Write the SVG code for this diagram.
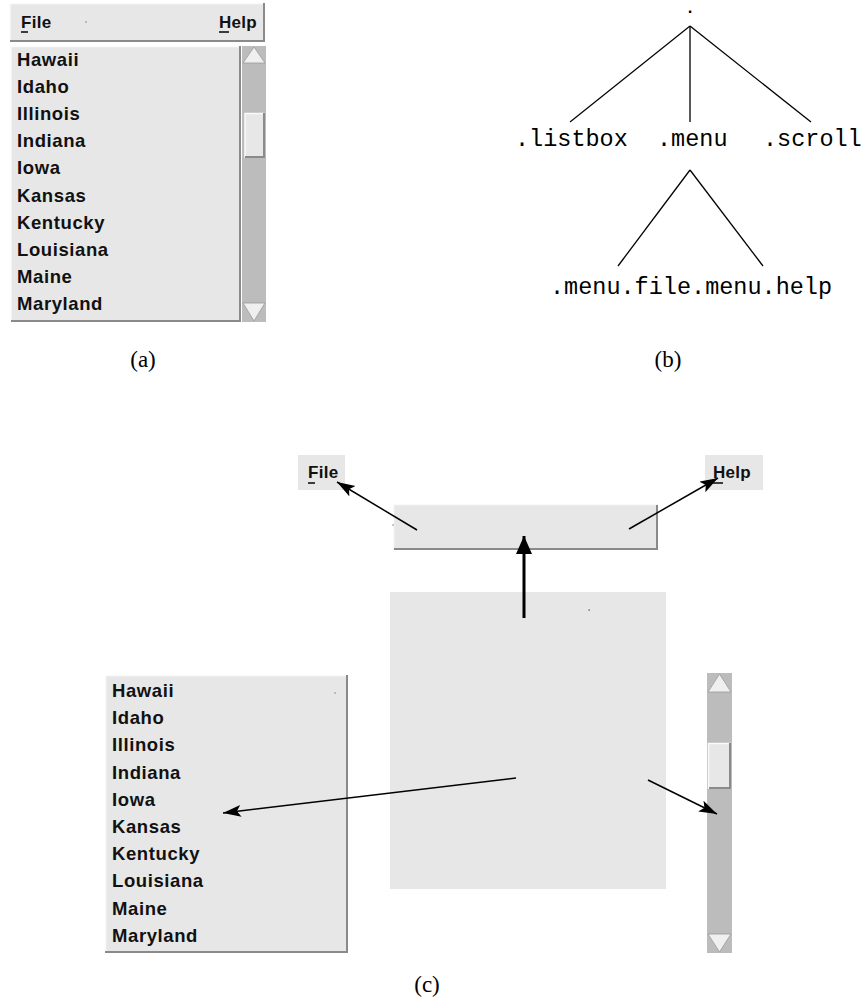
<svg xmlns="http://www.w3.org/2000/svg" width="864" height="1003" viewBox="0 0 864 1003">
<style>
.w{font-family:"Liberation Sans",Arial,sans-serif;font-weight:bold;font-size:18.5px;letter-spacing:0.6px;fill:#111}
.m{font-family:"Liberation Sans",Arial,sans-serif;font-weight:bold;font-size:17px;letter-spacing:0.3px;fill:#111}
.t{font-family:"Liberation Mono","Courier New",monospace;font-size:23.5px;fill:#000}
.cap{font-family:"Liberation Serif","Times New Roman",serif;font-size:23px;fill:#000}
.bg{fill:#e7e7e7}
.trough{fill:#bcbcbc}
.dark{stroke:#8a8a8a;stroke-width:2;fill:none}
.light{stroke:#fafafa;stroke-width:1.5;fill:none}
.tl{stroke:#000;stroke-width:1.3;fill:none}
.arr{stroke:#000;stroke-width:1.5;fill:none;marker-end:url(#ah)}
.arrb{stroke:#000;stroke-width:3;fill:none;marker-end:url(#ahb)}
.ul{stroke:#111;stroke-width:1.6}
.tri{fill:#efefef;stroke:#9a9a9a;stroke-width:0.8}
</style>
<defs>
<marker id="ah" markerUnits="userSpaceOnUse" markerWidth="20" markerHeight="14" refX="18" refY="6" orient="auto">
<path d="M0,0 L18,6 L0,12 L4,6 Z" fill="#000"/>
</marker>
<marker id="ahb" markerUnits="userSpaceOnUse" markerWidth="20" markerHeight="18" refX="18" refY="8" orient="auto">
<path d="M0,0 L18,8 L0,16 Z" fill="#000"/>
</marker>
</defs>
<rect width="864" height="1003" fill="#fff"/>

<!-- (a) screenshot -->
<g id="a-menubar">
<rect class="bg" x="10" y="3" width="255" height="39"/>
<polyline class="light" points="10,41 10,3.5 265,3.5"/>
<polyline class="dark" points="10,41 264,41 264,3"/>
<text class="m" x="21" y="28">File</text>
<line class="ul" x1="21" y1="32" x2="28" y2="32"/>
<text class="m" x="219" y="28">Help</text>
<line class="ul" x1="219" y1="32" x2="229" y2="32"/>
<rect x="85.5" y="21.5" width="1" height="1" fill="#333"/>
</g>
<g id="a-listbox">
<rect class="bg" x="11" y="46" width="230" height="276"/>
<polyline class="light" points="11,321 11,46.5 241,46.5"/>
<polyline class="dark" points="11,321 240,321 240,46"/>
<text class="w" x="17" y="66">Hawaii</text>
<text class="w" x="17" y="93.1">Idaho</text>
<text class="w" x="17" y="120.2">Illinois</text>
<text class="w" x="17" y="147.3">Indiana</text>
<text class="w" x="17" y="174.4">Iowa</text>
<text class="w" x="17" y="201.5">Kansas</text>
<text class="w" x="17" y="228.6">Kentucky</text>
<text class="w" x="17" y="255.7">Louisiana</text>
<text class="w" x="17" y="282.8">Maine</text>
<text class="w" x="17" y="309.9">Maryland</text>
</g>
<g id="a-scroll">
<rect class="trough" x="242" y="46" width="24" height="276"/>
<polygon class="tri" points="254,47 243,63 265,63"/>
<polygon class="tri" points="254,321 243,303 265,303"/>
<rect class="bg" x="245" y="113" width="20" height="45"/>
<polyline class="light" points="245,158 245,113.5 265,113.5"/>
<polyline class="dark" points="245,157 264,157 264,113"/>
</g>
<text id="cap-a" class="cap" x="143" y="367" text-anchor="middle">(a)</text>

<!-- (b) tree -->
<g id="b-root"><text x="690" y="13" text-anchor="middle" style="font-family:'Liberation Mono','Courier New',monospace;font-size:16px;font-weight:bold;fill:#000">.</text></g>
<g id="b-listbox"><text class="t" x="515" y="146">.listbox</text></g>
<g id="b-menu"><text class="t" x="657" y="146">.menu</text></g>
<g id="b-scroll"><text class="t" x="763" y="146">.scroll</text></g>
<g id="b-menufilehelp"><text class="t" x="550" y="294">.menu.file.menu.help</text></g>
<g id="b-connectors">
<line class="tl" x1="690" y1="26" x2="570" y2="122"/>
<line class="tl" x1="690" y1="26" x2="690" y2="122"/>
<line class="tl" x1="690" y1="26" x2="811" y2="122"/>
<line class="tl" x1="690" y1="170" x2="618" y2="266"/>
<line class="tl" x1="690" y1="170" x2="763" y2="266"/>
</g>
<text id="cap-b" class="cap" x="668" y="367" text-anchor="middle">(b)</text>

<!-- (c) exploded view -->
<g id="c-file">
<rect class="bg" x="298" y="455" width="47" height="35"/>
<text class="m" x="308" y="478">File</text>
<line class="ul" x1="308" y1="483" x2="315" y2="483"/>
</g>
<g id="c-help">
<rect class="bg" x="705" y="455" width="58" height="35"/>
<text class="m" x="713" y="478">Help</text>
<line class="ul" x1="713" y1="483" x2="723" y2="483"/>
</g>
<g id="c-menubar">
<rect class="bg" x="393" y="504" width="265" height="46"/>
<polyline class="light" points="393.5,549 393.5,504.5 657,504.5"/>
<polyline class="dark" points="394,549 657,549 657,505"/>
<rect x="392.5" y="524.5" width="1" height="1" fill="#333"/>
</g>
<g id="c-frame">
<rect class="bg" x="390" y="592" width="276" height="297"/>
<rect x="588.5" y="609.5" width="1.2" height="1.2" fill="#333"/>
</g>
<g id="c-listbox">
<rect class="bg" x="105" y="675" width="243" height="278"/>
<polyline class="light" points="105.5,952 105.5,675.5 347,675.5"/>
<polyline class="dark" points="105,952 347,952 347,675"/>
<rect x="334.5" y="692.5" width="1" height="1" fill="#333"/>
<text class="w" x="112" y="697">Hawaii</text>
<text class="w" x="112" y="724.2">Idaho</text>
<text class="w" x="112" y="751.4">Illinois</text>
<text class="w" x="112" y="778.6">Indiana</text>
<text class="w" x="112" y="805.8">Iowa</text>
<text class="w" x="112" y="833">Kansas</text>
<text class="w" x="112" y="860.2">Kentucky</text>
<text class="w" x="112" y="887.4">Louisiana</text>
<text class="w" x="112" y="914.6">Maine</text>
<text class="w" x="112" y="941.8">Maryland</text>
</g>
<g id="c-scroll">
<rect class="trough" x="707" y="673" width="25" height="280"/>
<polygon class="tri" points="719.5,674 708,692 731,692"/>
<polygon class="tri" points="719.5,952 708,934 731,934"/>
<rect class="bg" x="708" y="743" width="23" height="46"/>
<polyline class="light" points="708.5,789 708.5,743.5 731,743.5"/>
<polyline class="dark" points="709,788 730,788 730,743"/>
</g>
<g id="c-connectors">
<line class="arr" x1="417" y1="530" x2="337" y2="482"/>
<line class="arr" x1="629" y1="529" x2="718" y2="478"/>
<line class="arrb" x1="524" y1="618" x2="524" y2="536"/>
<line class="arr" x1="516" y1="778" x2="223" y2="813"/>
<line class="arr" x1="648" y1="780" x2="717" y2="814"/>
</g>
<text id="cap-c" class="cap" x="427" y="992" text-anchor="middle">(c)</text>
</svg>
